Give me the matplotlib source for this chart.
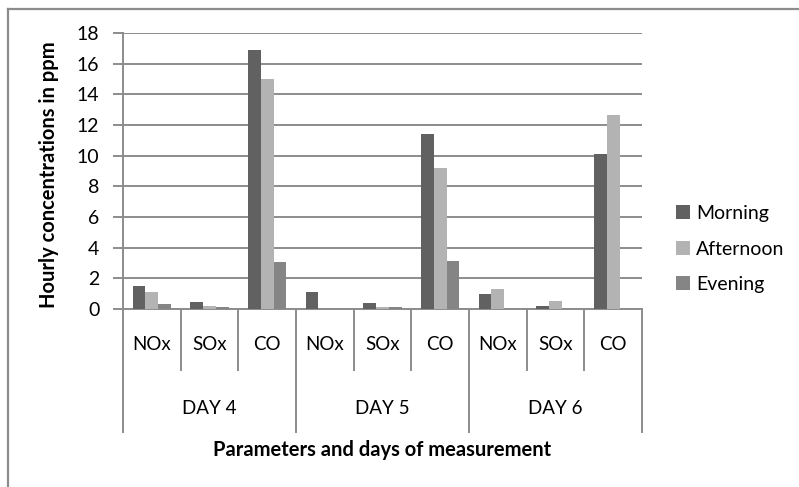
import matplotlib
matplotlib.use("Agg")
import matplotlib.pyplot as plt
import numpy as np
from matplotlib.lines import Line2D
from matplotlib.patches import Patch
from matplotlib.transforms import blended_transform_factory

plt.rcParams["font.family"] = ["Lato", "DejaVu Sans"]

# Hourly concentrations (ppm)
days = ["DAY 4", "DAY 5", "DAY 6"]
params = ["NOx", "SOx", "CO"]
series = ["Morning", "Afternoon", "Evening"]
morning = [1.47, 0.44, 16.88, 1.10, 0.37, 11.40, 0.96, 0.20, 10.10]
afternoon = [1.10, 0.17, 15.02, 0.0, 0.13, 9.17, 1.29, 0.52, 12.68]
evening = [0.30, 0.11, 3.06, 0.0, 0.13, 3.14, 0.0, 0.0, 0.0]
colors = ["#616161", "#b3b3b3", "#858585"]

W, H = 799, 487
fig = plt.figure(figsize=(W / 100, H / 100), dpi=100)
fig.patch.set_facecolor("white")
ax = fig.add_axes([123 / W, 1 - 309 / H, (642 - 123) / W, (309 - 33) / H])

n = len(morning)
x = np.arange(n)
bw = 1 / 4.5
for i, (vals, c) in enumerate(zip([morning, afternoon, evening], colors)):
    ax.bar(x + (i - 1) * bw, vals, width=bw, color=c, zorder=3)

ax.set_xlim(-0.5, n - 0.5)
ax.set_ylim(0, 18)
ax.set_yticks(np.arange(0, 19, 2))
ax.yaxis.grid(True, color="#8c8c8c", linewidth=1.4, zorder=0)
ax.set_axisbelow(True)
for s in ["top", "right"]:
    ax.spines[s].set_visible(False)
ax.spines["left"].set_color("#8c8c8c")
ax.spines["left"].set_linewidth(1.4)
ax.spines["bottom"].set_color("#8c8c8c")
ax.spines["bottom"].set_linewidth(1.4)
ax.tick_params(axis="y", length=7, width=1.4, color="#8c8c8c", labelsize=14, pad=10)
ax.set_xticks([])

# hierarchical category axis
tr = blended_transform_factory(ax.transData, ax.transAxes)
ah = 309 - 33
inner_len = (370 - 309) / ah
day_len = (432 - 309) / ah
for k in range(n + 1):
    xe = k - 0.5
    ln = day_len if k % 3 == 0 else inner_len
    ax.add_line(Line2D([xe, xe], [0, -ln], transform=tr, color="#8c8c8c",
                       linewidth=1.4, clip_on=False))
for k in range(n):
    ax.text(k, -(345 - 309) / ah, params[k % 3], transform=tr,
            ha="center", va="center", fontsize=13.5)
for d, day in enumerate(days):
    ax.text(d * 3 + 1, -(408 - 309) / ah, day, transform=tr,
            ha="center", va="center", fontsize=13.5)
ax.text(4, -(450 - 309) / ah, "Parameters and days of measurement", transform=tr,
        ha="center", va="center", fontsize=14.5, fontweight="bold")

fig.text(49 / W, 1 - 175 / H, "Hourly concentrations in ppm", rotation=90,
         ha="center", va="center", fontsize=14.5, fontweight="bold")

handles = [Patch(facecolor=c, edgecolor="none") for c in colors]
fig.legend(handles, series, loc="center left", bbox_to_anchor=(676 / W, 1 - 249 / H),
           frameon=False, fontsize=14, handlelength=0.72, handleheight=0.72,
           handletextpad=0.3, labelspacing=0.95, borderaxespad=0, borderpad=0)

# outer chart border (top and left edges visible)
fig.add_artist(Line2D([8 / W, 1.01], [1 - 9 / H, 1 - 9 / H], transform=fig.transFigure,
                      color="#8c8c8c", linewidth=1.6))
fig.add_artist(Line2D([8 / W, 8 / W], [1 - 9 / H, -0.01], transform=fig.transFigure,
                      color="#8c8c8c", linewidth=1.6))

fig.savefig("out.png", dpi=100, facecolor="white")
